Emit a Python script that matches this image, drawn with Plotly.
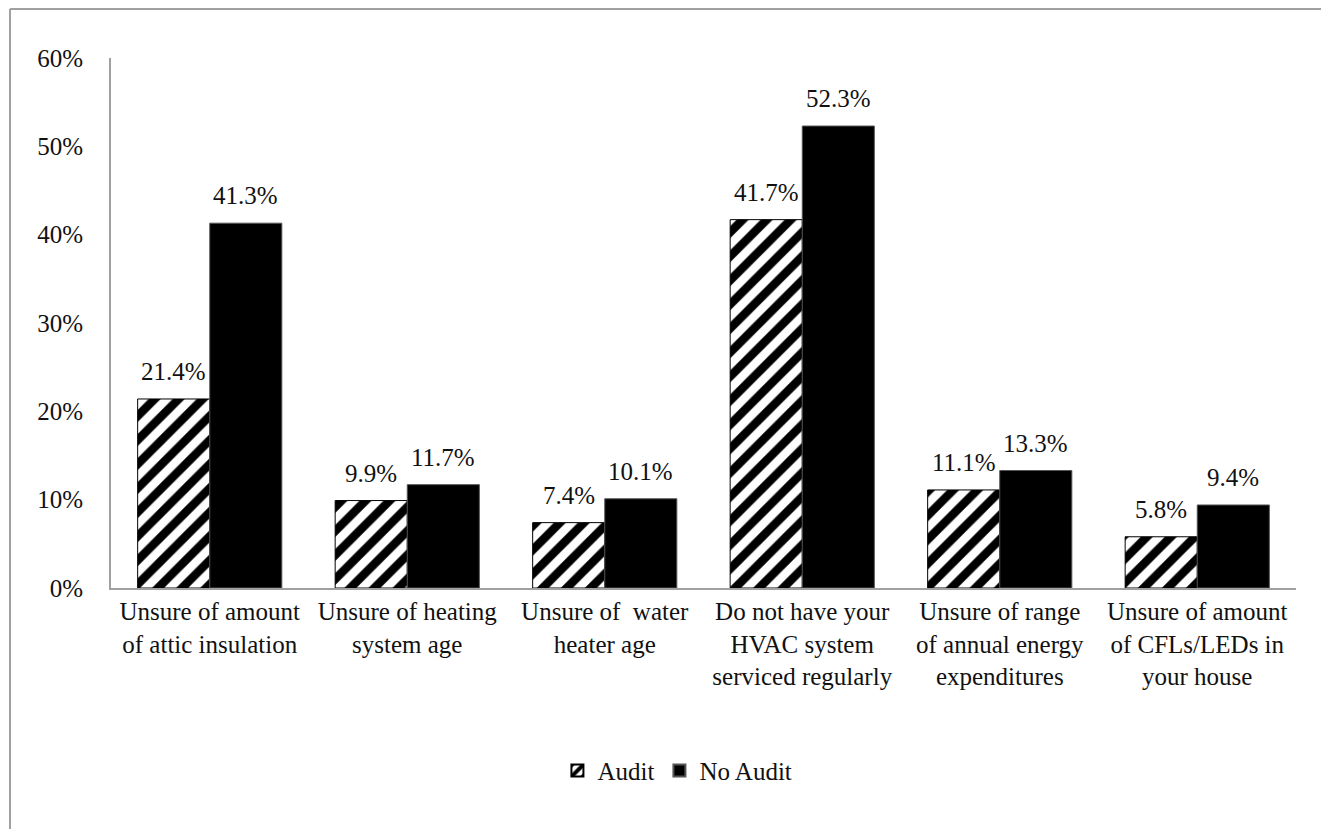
import plotly.graph_objects as go

categories = [
    "Unsure of amount<br>of attic insulation",
    "Unsure of heating<br>system age",
    "Unsure of  water<br>heater age",
    "Do not have your<br>HVAC system<br>serviced regularly",
    "Unsure of range<br>of annual energy<br>expenditures",
    "Unsure of amount<br>of CFLs/LEDs in<br>your house",
]
audit = [21.4, 9.9, 7.4, 41.7, 11.1, 5.8]
no_audit = [41.3, 11.7, 10.1, 52.3, 13.3, 9.4]
y_ticks = [0, 10, 20, 30, 40, 50, 60]
y_tick_labels = ["0%", "10%", "20%", "30%", "40%", "50%", "60%"]

W, H = 1313, 821
L, R, T, B = 103, 25, 50, 241
FONT = "Liberation Serif, Times New Roman, serif"
FS = 25

fig = go.Figure()
fig.add_trace(go.Bar(
    name="Audit", x=categories, y=audit,
    marker=dict(color="white", line=dict(color="black", width=1),
                pattern=dict(shape="/", fgcolor="black", bgcolor="white", fgopacity=1,
                             size=17, solidity=0.5)),
))
fig.add_trace(go.Bar(
    name="No Audit", x=categories, y=no_audit,
    marker=dict(color="black", line=dict(color="#555", width=1)),
))

# value labels
bar_px = (W - L - R) / len(categories) * 0.73 / 2
for vals, sign in ((audit, -1), (no_audit, 1)):
    for c, v in zip(categories, vals):
        fig.add_annotation(x=c, y=v, xref="x", yref="y", text=f"{v:.1f}%",
                           showarrow=False, yanchor="bottom", xshift=sign * bar_px / 2,
                           yshift=12, font=dict(size=FS, color="#111", family=FONT))

# outer border (left and top visible)
pw = W - L - R
ph = H - T - B
bx = (2 - L) / pw
by = (ph + T - 1) / ph
fig.add_shape(type="line", xref="paper", yref="paper", x0=bx, x1=bx, y0=by, y1=-1,
              line=dict(color="#a0a0a0", width=2))
fig.add_shape(type="line", xref="paper", yref="paper", x0=bx, x1=1.2, y0=by, y1=by,
              line=dict(color="#a0a0a0", width=2))

fig.update_layout(
    width=W, height=H,
    margin=dict(l=L, r=R, t=T, b=B),
    paper_bgcolor="white", plot_bgcolor="white",
    barmode="group", bargap=0.27, bargroupgap=0,
    font=dict(family=FONT, size=FS, color="#111"),
    showlegend=True,
    legend=dict(orientation="h", x=0.478, xanchor="center", y=-0.345, yanchor="middle",
                font=dict(size=FS, family=FONT), traceorder="normal",
                itemwidth=30, itemsizing="constant"),
    xaxis=dict(showline=True, linecolor="#a0a0a0", linewidth=2, ticks="",
               tickfont=dict(size=FS, family=FONT), showgrid=False),
    yaxis=dict(range=[0, 60], tickvals=y_ticks, ticktext=y_tick_labels,
               showline=True, linecolor="#a0a0a0", linewidth=2, ticks="",
               ticklabelstandoff=21, showgrid=False, zeroline=False,
               tickfont=dict(size=FS, family=FONT)),
)

fig.write_html("out.html")
